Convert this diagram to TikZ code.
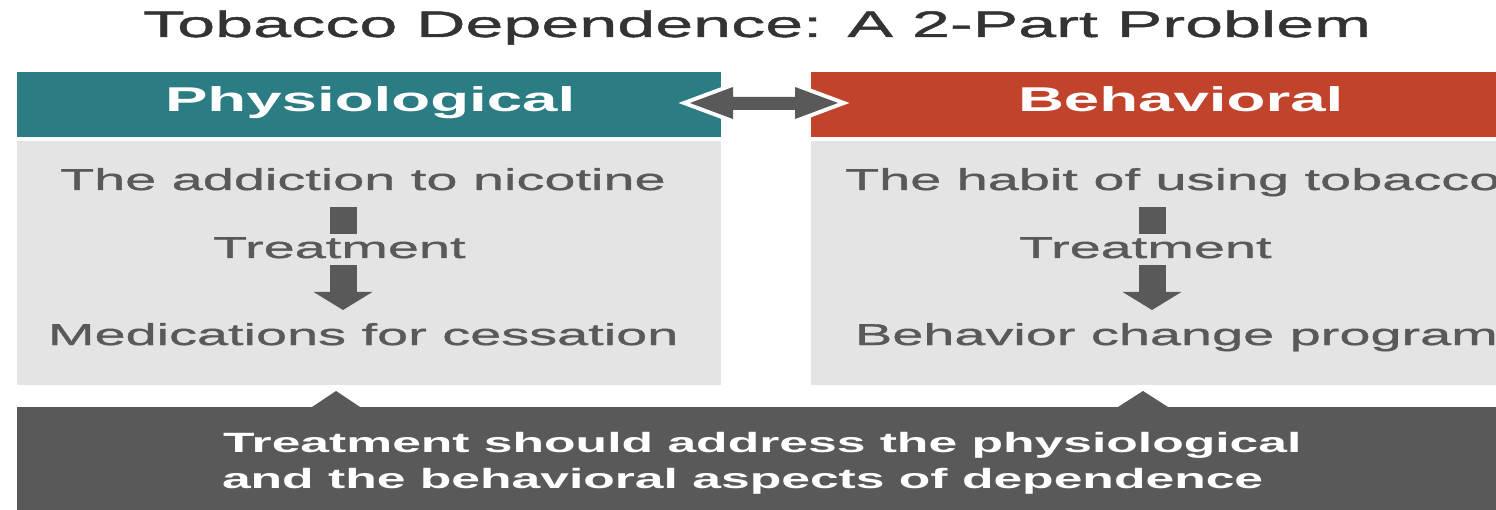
\documentclass[tikz,border=0pt]{standalone}
\usepackage{fontspec}
\setmainfont{Liberation Sans}[FakeStretch=1.85, UprightFeatures={FakeBold=1.2}]
\usetikzlibrary{arrows.meta}
\definecolor{tealc}{HTML}{2B7C83}
\definecolor{redc}{HTML}{C1432B}
\definecolor{bodyc}{HTML}{E4E4E4}
\definecolor{darkc}{HTML}{595959}
\definecolor{titlec}{HTML}{333333}
\begin{document}
\begin{tikzpicture}[x=1pt,y=-1pt,
  box/.style={anchor=north west, inner sep=0pt, outer sep=0pt},
  lbl/.style={anchor=base west, inner sep=0pt, outer sep=0pt},
  titletext/.style={lbl, text=titlec, font=\fontsize{36.9}{44}\selectfont},
  hdrtext/.style={lbl, text=white, font=\fontsize{34.4}{40}\selectfont\bfseries},
  bodytext/.style={lbl, text=darkc, font=\fontsize{30.2}{36}\selectfont},
  midtext/.style={bodytext, fill=bodyc, text height=24pt, text depth=7pt},
  foottext/.style={lbl, text=white, font=\fontsize{27.9}{36}\selectfont\bfseries},
  fatarrow/.style={draw=darkc, line width=27pt, -{Triangle[width=58pt,length=18pt]}},
  linkarrow/.style={fill=darkc, preaction={draw=white, line width=8pt, line join=miter}},
]
\useasboundingbox (0,0) rectangle (1496,510);
\clip (0,0) rectangle (1496,510);
\fill[white] (0,0) rectangle (1496,510);

% title
\node[titletext] (title) at (143,37) {Tobacco Dependence: A 2-Part Problem};

% boxes
\node[box, fill=tealc, minimum width=704pt, minimum height=65pt] (hL) at (17,72) {};
\node[box, fill=bodyc, minimum width=704pt, minimum height=244pt] (bL) at (17,141) {};
\node[box, fill=redc, minimum width=704pt, minimum height=65pt] (hR) at (811,72) {};
\node[box, fill=bodyc, minimum width=704pt, minimum height=244pt] (bR) at (811,141) {};

% footer box with notches
\fill[darkc] (17,407) -- (312,407) -- (336,391) -- (360,407) -- (1118,407)
  -- (1143,391) -- (1168,407) -- (1520,407) -- (1520,520) -- (17,520) -- cycle;

% double arrow between headers
\path[linkarrow] (690,103) -- (733,87) -- (733,97) -- (795,97) -- (795,87)
  -- (838,103) -- (795,119) -- (795,110) -- (733,110) -- (733,119) -- cycle;

% header labels
\node[hdrtext] (tPhys) at (165,112) {Physiological};
\node[hdrtext] (tBeh) at (1018,112) {Behavioral};

% left column
\coordinate (lA) at (343,207);
\coordinate (lB) at (343,310);
\draw[fatarrow] (lA) -- (lB);
\node[bodytext] (l1) at (60,190) {The addiction to nicotine};
\node[midtext] (l2) at (213,258) {Treatment};
\node[bodytext] (l3) at (48,345) {Medications for cessation};

% right column
\coordinate (rA) at (1152,207);
\coordinate (rB) at (1152,310);
\draw[fatarrow] (rA) -- (rB);
\node[bodytext] (r1) at (845,190) {The habit of using tobacco};
\node[midtext] (r2) at (1019,258) {Treatment};
\node[bodytext] (r3) at (855,345) {Behavior change program};

% footer text
\node[foottext] (f1) at (223,452) {Treatment should address the physiological};
\node[foottext] (f2) at (222,488) {and the behavioral aspects of dependence};
\end{tikzpicture}
\end{document}
